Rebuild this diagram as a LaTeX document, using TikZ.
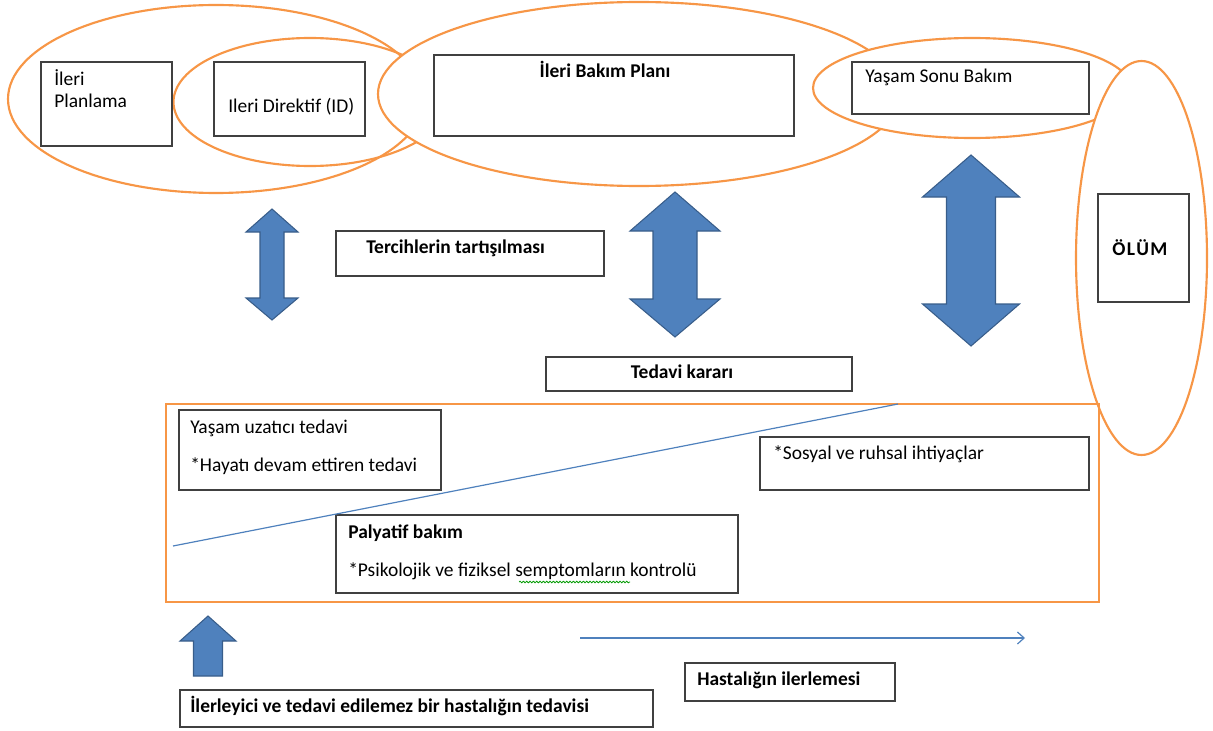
\documentclass[tikz,border=0pt]{standalone}
\usepackage{fontspec}
\setmainfont{Carlito}
\usetikzlibrary{shapes.geometric,arrows.meta,decorations.pathmorphing}
\definecolor{orng}{HTML}{F79646}
\definecolor{ablue}{HTML}{4F81BD}
\definecolor{aedge}{HTML}{385D8A}
\newcommand\mybox[5]{\node[box,minimum width=#4*0.75pt,minimum height=#5*0.75pt] (#1) at (#2,#3) {};}
\begin{document}
\begin{tikzpicture}[x=0.75pt,y=-0.75pt,
  box/.style={draw=black!75,line width=1.1pt,anchor=north west,inner sep=0pt,outer sep=0pt},
  ell/.style={ellipse,draw=orng,line width=1.6pt,inner sep=0pt,outer sep=0pt},
  txt/.style={anchor=base west,inner sep=0pt,font=\fontsize{14.6}{17}\selectfont},
  btxt/.style={txt,font=\fontsize{14.6}{17}\selectfont\bfseries},
  barrow/.style={fill=ablue,draw=aedge,line width=0.8pt,line join=miter}]
\useasboundingbox (0,0) rectangle (1213,731);
% ellipses
\node[ell,minimum width=416*0.75pt,minimum height=188*0.75pt] (e1) at (216,99) {};
\node[ell,minimum width=273*0.75pt,minimum height=128*0.75pt] (e2) at (310,102) {};
\node[ell,fill=white,minimum width=522*0.75pt,minimum height=184*0.75pt] (e3) at (639,94) {};
\node[ell,fill=white,minimum width=318*0.75pt,minimum height=100*0.75pt] (e4) at (972,88) {};
\node[ell,fill=white,minimum width=131*0.75pt,minimum height=394*0.75pt] (e5) at (1141.5,258) {};
% orange frame
\node[draw=orng,line width=1.6pt,anchor=north west,inner sep=0pt,outer sep=0pt,minimum width=933*0.75pt,minimum height=198*0.75pt] (frame) at (166,404) {};
% boxes
\mybox{bPlan}{41}{62}{131}{84}
\mybox{bID}{214}{62}{151}{74}
\mybox{bBakim}{434}{55}{360}{81}
\mybox{bSonu}{852}{62}{237}{52}
\mybox{bOlum}{1098}{194}{91}{108}
\mybox{bTerc}{336}{231}{268}{45}
\mybox{bKarar}{546}{357}{306}{34}
\mybox{bUzat}{179}{410}{262}{80}
\mybox{bPaly}{336}{515}{402}{78}
\mybox{bSosyal}{760}{437}{329}{53}
\mybox{bIlerle}{180}{690}{473}{37}
\mybox{bHast}{685}{663}{210}{38}
% texts
\node[txt] (t1) at (54,86) {İleri};
\node[txt] (t2) at (54,108) {Planlama};
\node[txt] (t3) at (228,113) {Ileri Direktif (ID)};
\node[btxt,anchor=base] (t4) at (605,78) {İleri Bakım Planı};
\node[txt] (t5) at (865,83) {Yaşam Sonu Bakım};
\node[btxt] (t6) at (1112,255) {Ö\kern1ptL\kern1ptÜ\kern1ptM};
\node[btxt] (t7) at (366,253) {Tercihlerin tartışılması};
\node[btxt,anchor=base] (t8) at (682,378) {Tedavi kararı};
\node[txt] (t9) at (190,433) {Yaşam uzatıcı tedavi};
\node[txt] (t10) at (190,471) {*Hayatı devam ettiren tedavi};
\node[txt] (t11) at (773,459) {*Sosyal ve ruhsal ihtiyaçlar};
\node[btxt] (t12) at (348,538) {Palyatif bakım};
\node[txt] (t13) at (348,576) {*Psikolojik ve fiziksel semptomların kontrolü};
\node[btxt] (t14) at (697,685) {Hastalığın ilerlemesi};
\node[btxt] (t15) at (190,712) {İlerleyici ve tedavi edilemez bir hastalığın tedavisi};
% spell-check squiggle
\coordinate (sq1) at (519,582);
\coordinate (sq2) at (630,582);
\draw[green!60!black,line width=0.6pt,decorate,decoration={snake,amplitude=0.6pt,segment length=2.5pt}] (sq1) -- (sq2);
% diagonal line
\coordinate (d1) at (173,546);
\coordinate (d2) at (898,404);
\draw[ablue,line width=0.9pt] (d1) -- (d2);
% progression arrow
\coordinate (h1) at (580,638);
\coordinate (h2) at (1025,638);
\draw[ablue,line width=0.9pt,-{Straight Barb[length=5pt,width=9pt]}] (h1) -- (h2);
% double arrows
\draw[barrow] (272,209) -- (298,232) -- (284,232) -- (284,298) -- (298,298) -- (272,320)
  -- (246,298) -- (260,298) -- (260,232) -- (246,232) -- cycle;
\draw[barrow] (675,192) -- (720,231) -- (697,231) -- (697,299) -- (720,299) -- (675,337)
  -- (630,299) -- (653,299) -- (653,231) -- (630,231) -- cycle;
\draw[barrow] (971,155) -- (1019.5,197) -- (995.5,197) -- (995.5,304) -- (1019.5,304) -- (971,346)
  -- (922.5,304) -- (946.5,304) -- (946.5,197) -- (922.5,197) -- cycle;
% up arrow
\draw[barrow] (208,616) -- (236,641) -- (222.5,641) -- (222.5,676) -- (193.5,676) -- (193.5,641)
  -- (180,641) -- cycle;
\end{tikzpicture}
\end{document}
